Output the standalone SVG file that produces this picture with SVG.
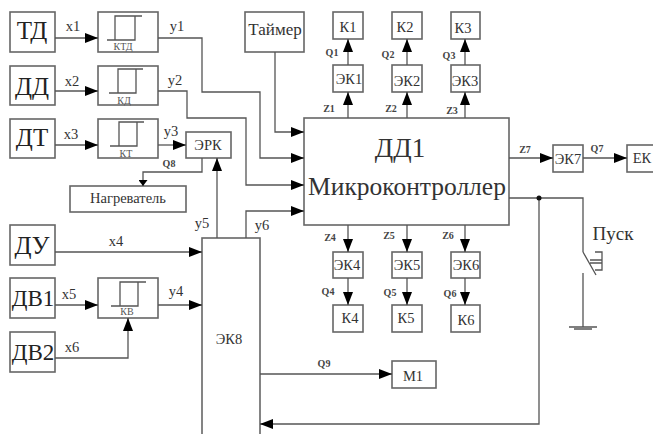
<svg xmlns="http://www.w3.org/2000/svg" width="653" height="434" viewBox="0 0 653 434">
<style>
text{font-family:"Liberation Serif","Noto Serif",serif;fill:#333;text-anchor:middle}
rect{fill:#fff;stroke:#666;stroke-width:1.6}
.c path,.h path{fill:none;stroke:#555;stroke-width:1.3}
.a{marker-end:url(#ah)}
.s{marker-end:url(#ahs)}
.big{font-size:25px;fill:#222}
.big2{font-size:23px;fill:#222}
.mid{font-size:17px}
.lab{font-size:14.5px}
.sm{font-size:10px;font-weight:bold;fill:#444}
.tiny{font-size:10px;fill:#555}
</style>
<defs>
<marker id="ah" markerUnits="userSpaceOnUse" markerWidth="13" markerHeight="10" refX="13" refY="5" orient="auto"><path d="M0 0L13 5L0 10Z" fill="#000"/></marker>
<marker id="ahs" markerUnits="userSpaceOnUse" markerWidth="6" markerHeight="9" refX="6" refY="4.5" orient="auto"><path d="M0 0L6 4.500L0 9Z" fill="#000"/></marker>
</defs>
<g id="td"><rect x="10" y="12" width="45" height="40"/><text class="big" x="32" y="39">ТД</text></g>
<g id="dd"><rect x="10" y="66" width="45" height="39"/><text class="big" x="32" y="95">ДД</text></g>
<g id="dt"><rect x="10" y="119" width="45" height="39"/><text class="big" x="32" y="146">ДТ</text></g>
<g id="du"><rect x="10" y="225" width="45" height="40"/><text class="big" x="32" y="254">ДУ</text></g>
<g id="dv1"><rect x="10" y="278" width="45" height="40"/><text class="big2" x="33" y="306">ДВ1</text></g>
<g id="dv2"><rect x="10" y="332" width="45" height="40"/><text class="big2" x="33" y="360">ДВ2</text></g>
<g id="ktd" class="h"><rect x="98" y="12" width="60" height="40"/><path d="M107 40H135V16M115 40V16H142"/><text class="tiny" x="123" y="50">КТД</text></g>
<g id="kd" class="h"><rect x="98" y="66" width="60" height="39"/><path d="M109 93H136V69M118 93V69H143"/><text class="tiny" x="124" y="104">КД</text></g>
<g id="kt" class="h"><rect x="98" y="119" width="60" height="39"/><path d="M110 146H137V122M119 146V122H144"/><text class="tiny" x="126" y="157">КТ</text></g>
<g id="kv" class="h"><rect x="98" y="278" width="60" height="40"/><path d="M111 306H138V282M120 306V282H146"/><text class="tiny" x="127" y="315">КВ</text></g>
<g id="erk"><rect x="186" y="132" width="45" height="26"/><text class="lab" x="208" y="150">ЭРК</text></g>
<g id="heater"><rect x="70" y="186" width="116" height="26"/><text class="lab" x="128" y="203">Нагреватель</text></g>
<g id="timer"><rect x="245" y="12" width="59" height="40"/><text class="mid" x="275" y="35">Таймер</text></g>
<g id="dd1"><rect x="304" y="118" width="205" height="107"/><text style="font-size:27px" fill="#222" x="400" y="157">ДД1</text><text style="font-size:25.500px" x="407" y="195">Микроконтроллер</text></g>
<g id="k1"><rect x="333" y="12" width="30" height="27"/><text class="lab" x="348" y="32">К1</text></g>
<g id="k2"><rect x="392" y="12" width="30" height="27"/><text class="lab" x="405" y="32">К2</text></g>
<g id="k3"><rect x="451" y="12" width="29" height="27"/><text class="lab" x="463" y="33">К3</text></g>
<g id="ek1"><rect x="333" y="65" width="30" height="27"/><text class="lab" x="349" y="84">ЭК1</text></g>
<g id="ek2"><rect x="392" y="65" width="30" height="27"/><text class="lab" x="407" y="86">ЭК2</text></g>
<g id="ek3"><rect x="451" y="65" width="29" height="27"/><text class="lab" x="465" y="86">ЭК3</text></g>
<g id="ek4"><rect x="333" y="252" width="30" height="26"/><text class="lab" x="347" y="270">ЭК4</text></g>
<g id="ek5"><rect x="392" y="252" width="30" height="26"/><text class="lab" x="407" y="270">ЭК5</text></g>
<g id="ek6"><rect x="451" y="252" width="29" height="26"/><text class="lab" x="466" y="270">ЭК6</text></g>
<g id="k4"><rect x="333" y="305" width="30" height="27"/><text class="lab" x="350" y="323">К4</text></g>
<g id="k5"><rect x="392" y="305" width="30" height="27"/><text class="lab" x="406" y="323">К5</text></g>
<g id="k6"><rect x="451" y="305" width="29" height="27"/><text class="lab" x="466" y="325">К6</text></g>
<g id="ek7"><rect x="553" y="145" width="30" height="27"/><text class="lab" x="568" y="164">ЭК7</text></g>
<g id="ek"><rect x="627" y="145" width="30" height="27"/><text class="lab" x="642" y="163">ЕК</text></g>
<g id="m1"><rect x="392" y="361" width="44" height="27"/><text class="lab" x="413" y="381">М1</text></g>
<g id="ek8"><rect x="202" y="238" width="58" height="200"/><text class="lab" x="229" y="344">ЭК8</text></g>
<g class="c" id="connectors">
<path class="a" d="M55 38H98"/><path class="a" d="M55 91H98"/><path class="a" d="M55 145H98"/>
<path class="a" d="M158 145H186"/>
<path class="a" d="M158 38H202V92H260V158H304"/>
<path class="a" d="M158 91H187V118H246V185H304"/>
<path class="a" d="M275 52V132H304"/>
<path class="a" d="M246 238V211H304"/>
<path class="a" d="M217 238V158"/>
<path class="s" d="M202 158V172H143V186"/>
<path class="a" d="M55 252H202"/>
<path class="a" d="M55 305H98"/>
<path class="a" d="M158 305H202"/>
<path class="a" d="M55 358H128V318"/>
<path class="a" d="M348 118V92"/><path class="a" d="M407 118V92"/><path class="a" d="M465 118V92"/>
<path class="a" d="M348 65V39"/><path class="a" d="M407 65V39"/><path class="a" d="M465 65V39"/>
<path class="a" d="M348 225V252"/><path class="a" d="M407 225V252"/><path class="a" d="M465 225V252"/>
<path class="a" d="M348 278V305"/><path class="a" d="M407 278V305"/><path class="a" d="M465 278V305"/>
<path class="a" d="M509 158H553"/><path class="a" d="M583 158H627"/>
<path class="a" d="M260 374H392"/>
<path d="M509 198H583V252"/>
<path class="a" d="M539 198V424H260"/>
<path d="M583 252L596 275M583 273V327M569 327H597M574 329H592M595 252H602V270H595M590 260H602M590 263H602"/>
<circle cx="539" cy="198" r="2.500" fill="#111"/>
</g>
<g id="labels">
<text class="lab" x="73" y="31">x1</text><text class="lab" x="72" y="86">x2</text><text class="lab" x="71" y="139">x3</text><text class="lab" x="116" y="246">x4</text><text class="lab" x="69" y="299">x5</text><text class="lab" x="72" y="352">x6</text>
<text class="lab" x="177" y="31">y1</text><text class="lab" x="175" y="85">y2</text><text class="lab" x="171" y="136">y3</text><text class="lab" x="176" y="296">y4</text><text class="lab" x="202" y="228">y5</text><text class="lab" x="262" y="230">y6</text>
<text class="sm" x="169" y="167">Q8</text>
<text class="sm" x="332" y="56">Q1</text><text class="sm" x="388" y="58">Q2</text><text class="sm" x="449" y="59">Q3</text>
<text class="sm" x="328" y="295">Q4</text><text class="sm" x="390" y="296">Q5</text><text class="sm" x="450" y="297">Q6</text>
<text class="sm" x="324" y="367">Q9</text><text class="sm" x="597" y="152">Q7</text>
<text class="sm" x="329" y="112">Z1</text><text class="sm" x="391" y="112">Z2</text><text class="sm" x="452" y="114">Z3</text>
<text class="sm" x="330" y="241">Z4</text><text class="sm" x="389" y="239">Z5</text><text class="sm" x="448" y="239">Z6</text><text class="sm" x="525" y="153">Z7</text>
<text x="613" y="240" style="font-size:19px">Пуск</text>
</g>
</svg>
